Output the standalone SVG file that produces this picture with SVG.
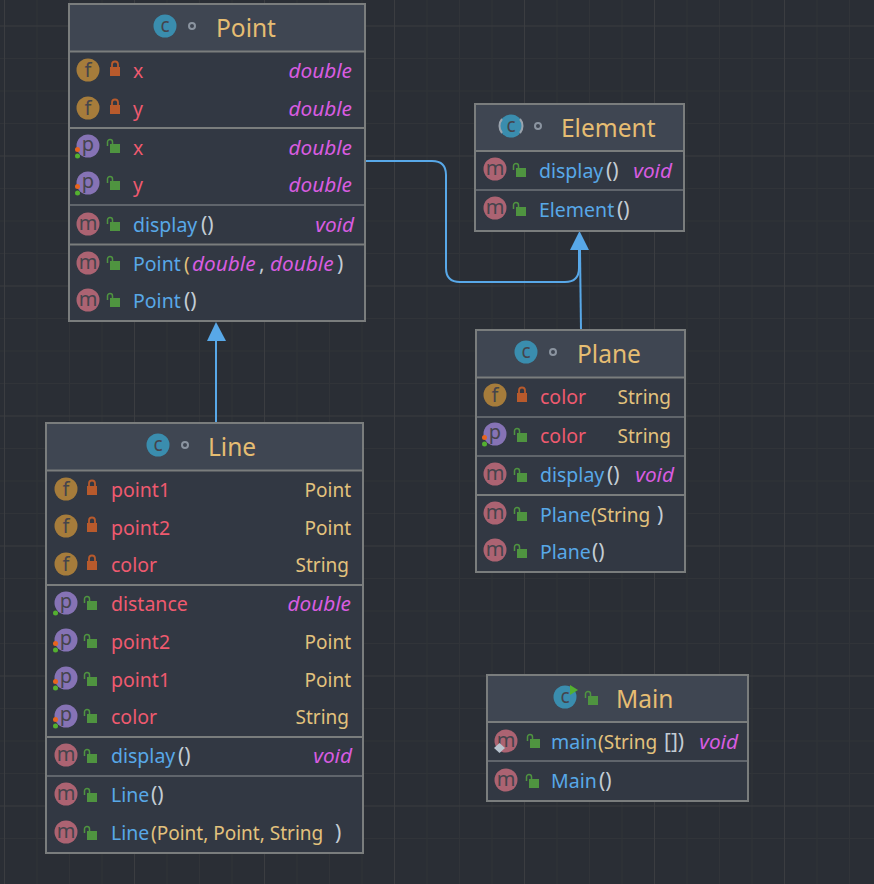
<svg xmlns="http://www.w3.org/2000/svg" width="874" height="884" viewBox="0 0 874 884">
<style>
text{font-family:"Noto Sans","Open Sans","Liberation Sans",sans-serif;font-size:19.5px}
.t{font-size:24.5px;fill:#e6bd72}
.f{fill:#ef5a6f}.m{fill:#58a8e8}.y{fill:#e3c27d;font-size:19px}.d{fill:#d85ce0;font-style:italic;font-size:20.8px}.b{fill:#c3ccd4;font-size:21px}
.box{fill:#323843;stroke:#7a7d7d;stroke-width:2}
.hd{fill:#3f4652}
.sep{stroke:#7a7d7d;stroke-width:2}
.sep1{stroke:#70747a;stroke-width:1.5}
.i{font-size:20px;fill:#45444c;text-anchor:middle}
.conn{fill:none;stroke:#58a8e8;stroke-width:2}
.minor{stroke:#313439;stroke-width:1;fill:none}
.major{stroke:#3b3d41;stroke-width:1;fill:none}
</style>
<defs>
<g id="lk"><path d="M-3-2v-2.500a3 3 0 0 1 6 0v2.500" fill="none" stroke="#b85a2c" stroke-width="1.800"/><rect x="-5" y="-2" width="10" height="9" fill="#b85a2c"/></g>
<g id="op"><path d="M-6.500-1v-4a2.500 2.500 0 0 1 5 0v2" fill="none" stroke="#4f9440" stroke-width="1.500"/><rect x="-4" y="-3" width="10" height="9" fill="#4f9440"/></g>
<g id="if"><circle r="11.500" fill="#a67c3b"/><text class="i" y="7">f</text></g>
<g id="ip"><circle r="11.500" fill="#8673b5"/><text class="i" y="5">p</text><circle cx="-10.500" cy="3.500" r="2.500" fill="#e8641e"/><circle cx="-10.500" cy="10" r="2.500" fill="#54b030"/></g>
<g id="ig"><circle r="11.500" fill="#8673b5"/><text class="i" y="5">p</text><circle cx="-10.500" cy="10" r="2.500" fill="#54b030"/></g>
<g id="im"><circle r="11.500" fill="#ac6372"/><text class="i" y="5.500">m</text></g>
<g id="ic"><circle r="11.500" fill="#3a8dae"/><text class="i" y="6" style="font-size:19px">c</text></g>
<g id="dot"><circle r="3" fill="none" stroke="#8b94a0" stroke-width="2"/></g>
</defs>
<rect width="874" height="884" fill="#2a2e35"/>
<g id="grid">
<path class="minor" d="M0 58.500H874M0 91H874M0 123.500H874M0 188.500H874M0 221H874M0 253.500H874M0 318.500H874M0 351H874M0 383.500H874M0 448.500H874M0 481H874M0 513.500H874M0 578.500H874M0 611H874M0 643.500H874M0 708.500H874M0 741H874M0 773.500H874M0 838.500H874M37 0V884M69.500 0V884M102 0V884M167 0V884M199.500 0V884M232 0V884M297 0V884M329.500 0V884M362 0V884M427 0V884M459.500 0V884M492 0V884M557 0V884M589.500 0V884M622 0V884M687 0V884M719.500 0V884M752 0V884M817 0V884M849.500 0V884"/>
<path class="major" d="M0 26H874M0 156H874M0 286H874M0 416H874M0 546H874M0 676H874M0 806H874M4.500 0V884M134.500 0V884M264.500 0V884M394.500 0V884M524.500 0V884M654.500 0V884M784.500 0V884"/>
</g>

<g id="connectors">
<path class="conn" d="M216 422V340"/>
<polygon points="216,322 207,341 226,341" fill="#58a8e8"/>
<path class="conn" d="M581 330L580 250"/>
<polygon points="579.500,231 570,250 589,250" fill="#58a8e8"/>
<path class="conn" d="M366 161H432Q446 161 446 175V268Q446 282 460 282H565Q579 282 579 268V250"/>
</g>

<g id="node-point">
<rect class="box" x="69" y="4" width="296" height="317"/>
<rect class="hd" x="70" y="5" width="294" height="46"/>
<path class="sep" d="M70 51.500H364M70 128H364M70 244.500H364"/>
<path class="sep1" d="M70 205H364"/>
<use href="#ic" x="165" y="26"/><use href="#dot" x="192" y="26"/>
<text class="t" x="216" y="37">Point</text>
<use href="#if" x="88" y="70"/><use href="#lk" x="115" y="69"/><text class="f" x="133" y="78">x</text><text class="d" x="352" y="78" text-anchor="end">double</text>
<use href="#if" x="88" y="108"/><use href="#lk" x="115" y="107"/><text class="f" x="133" y="116">y</text><text class="d" x="352" y="116" text-anchor="end">double</text>
<use href="#ip" x="88" y="146"/><use href="#op" x="114" y="147"/><text class="f" x="133" y="155">x</text><text class="d" x="352" y="155" text-anchor="end">double</text>
<use href="#ip" x="88" y="183"/><use href="#op" x="114" y="184"/><text class="f" x="133" y="192">y</text><text class="d" x="352" y="192" text-anchor="end">double</text>
<use href="#im" x="88" y="224"/><use href="#op" x="114" y="225"/><text class="m" x="133" y="232">display</text><text class="b" x="201" y="232">()</text><text class="d" x="354" y="232" text-anchor="end">void</text>
<use href="#im" x="88" y="263"/><use href="#op" x="114" y="264"/><text class="m" x="133" y="271">Point</text><text class="y" x="184" y="271">(</text><text class="d" x="192" y="271">double</text><text class="b" x="259" y="271">,</text><text class="d" x="270" y="271">double</text><text class="b" x="337" y="271">)</text>
<use href="#im" x="88" y="300"/><use href="#op" x="114" y="301"/><text class="m" x="133" y="308">Point</text><text class="b" x="184" y="308">()</text>
</g>

<g id="node-element">
<rect class="box" x="475" y="104" width="209" height="127"/>
<rect class="hd" x="476" y="105" width="207" height="46"/>
<path class="sep" d="M476 151H683"/>
<path class="sep1" d="M476 190H683"/>
<use href="#ic" x="511" y="126"/><path d="M502 119a11 11 0 0 0 0 14M520 119a11 11 0 0 1 0 14" fill="none" stroke="#9aa3ad" stroke-width="2"/><use href="#dot" x="538" y="126"/>
<text class="t" x="561" y="137">Element</text>
<use href="#im" x="495" y="169"/><use href="#op" x="520" y="171"/><text class="m" x="539" y="178">display</text><text class="b" x="606" y="178">()</text><text class="d" x="672" y="178" text-anchor="end">void</text>
<use href="#im" x="495" y="208"/><use href="#op" x="520" y="210"/><text class="m" x="539" y="217">Element</text><text class="b" x="617" y="217">()</text>
</g>

<g id="node-plane">
<rect class="box" x="476" y="330" width="209" height="242"/>
<rect class="hd" x="477" y="331" width="207" height="46"/>
<path class="sep" d="M477 377.500H684M477 495H684"/>
<path class="sep1" d="M477 417H684M477 456H684"/>
<use href="#ic" x="526" y="352"/><use href="#dot" x="553" y="352"/>
<text class="t" x="577" y="363">Plane</text>
<use href="#if" x="495" y="395"/><use href="#lk" x="522" y="395"/><text class="f" x="540" y="404">color</text><text class="y" x="671" y="404" text-anchor="end">String</text>
<use href="#ip" x="495" y="434"/><use href="#op" x="521" y="436"/><text class="f" x="540" y="443">color</text><text class="y" x="671" y="443" text-anchor="end">String</text>
<use href="#im" x="495" y="474"/><use href="#op" x="521" y="476"/><text class="m" x="540" y="482">display</text><text class="b" x="607" y="482">()</text><text class="d" x="674" y="482" text-anchor="end">void</text>
<use href="#im" x="495" y="513"/><use href="#op" x="521" y="515"/><text class="m" x="540" y="522">Plane</text><text class="y" x="591" y="522">(String</text><text class="b" x="657" y="522">)</text>
<use href="#im" x="495" y="550"/><use href="#op" x="521" y="552"/><text class="m" x="540" y="559">Plane</text><text class="b" x="592" y="559">()</text>
</g>

<g id="node-line">
<rect class="box" x="46" y="423" width="317" height="430"/>
<rect class="hd" x="47" y="424" width="315" height="46"/>
<path class="sep" d="M47 470.500H362M47 585H362M47 737H362"/>
<path class="sep1" d="M47 776H362"/>
<use href="#ic" x="158" y="445"/><use href="#dot" x="185" y="445"/>
<text class="t" x="208" y="456">Line</text>
<use href="#if" x="66" y="489"/><use href="#lk" x="92" y="488"/><text class="f" x="111" y="497">point1</text><text class="y" x="351" y="497" text-anchor="end">Point</text>
<use href="#if" x="66" y="526"/><use href="#lk" x="92" y="525"/><text class="f" x="111" y="535">point2</text><text class="y" x="351" y="535" text-anchor="end">Point</text>
<use href="#if" x="66" y="564"/><use href="#lk" x="92" y="563"/><text class="f" x="111" y="572">color</text><text class="y" x="349" y="572" text-anchor="end">String</text>
<use href="#ig" x="66" y="603"/><use href="#op" x="91" y="604"/><text class="f" x="111" y="611">distance</text><text class="d" x="351" y="611" text-anchor="end">double</text>
<use href="#ip" x="66" y="640"/><use href="#op" x="91" y="642"/><text class="f" x="111" y="649">point2</text><text class="y" x="351" y="649" text-anchor="end">Point</text>
<use href="#ip" x="66" y="678"/><use href="#op" x="91" y="680"/><text class="f" x="111" y="687">point1</text><text class="y" x="351" y="687" text-anchor="end">Point</text>
<use href="#ip" x="66" y="716"/><use href="#op" x="91" y="717"/><text class="f" x="111" y="724">color</text><text class="y" x="349" y="724" text-anchor="end">String</text>
<use href="#im" x="66" y="755"/><use href="#op" x="91" y="757"/><text class="m" x="111" y="763">display</text><text class="b" x="178" y="763">()</text><text class="d" x="352" y="763" text-anchor="end">void</text>
<use href="#im" x="66" y="794"/><use href="#op" x="91" y="796"/><text class="m" x="111" y="802">Line</text><text class="b" x="151" y="802">()</text>
<use href="#im" x="66" y="832"/><use href="#op" x="91" y="834"/><text class="m" x="111" y="840">Line</text><text class="y" x="151" y="840">(Point, Point, String</text><text class="b" x="335" y="840">)</text>
</g>

<g id="node-main">
<rect class="box" x="487" y="675" width="261" height="126"/>
<rect class="hd" x="488" y="676" width="259" height="46"/>
<path class="sep" d="M488 722H747"/>
<path class="sep1" d="M488 761H747"/>
<use href="#ic" x="565" y="697"/><polygon points="570,685 578,690 570,695" fill="#54b030"/><use href="#op" x="592" y="699"/>
<text class="t" x="616" y="708">Main</text>
<use href="#im" x="506" y="741"/><polygon points="499.500,743 505,748 499.500,753 494,748" fill="#b9c4cf"/><use href="#op" x="534" y="742"/><text class="m" x="551" y="749">main</text><text class="y" x="598" y="749">(String</text><text class="b" x="664" y="749">[])</text><text class="d" x="738" y="749" text-anchor="end">void</text>
<use href="#im" x="506" y="780"/><use href="#op" x="533" y="782"/><text class="m" x="551" y="788">Main</text><text class="b" x="599" y="788">()</text>
</g>
</svg>
